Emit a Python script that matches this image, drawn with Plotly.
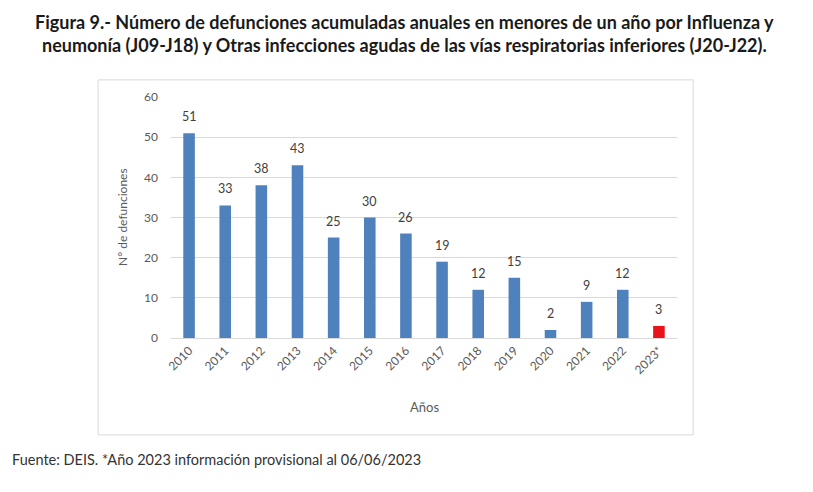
import plotly.graph_objects as go

# data
years = ["2010", "2011", "2012", "2013", "2014", "2015", "2016",
         "2017", "2018", "2019", "2020", "2021", "2022", "2023*"]
deaths = [51, 33, 38, 43, 25, 30, 26, 19, 12, 15, 2, 9, 12, 3]
bar_colors = ["#4f81bd"] * 13 + ["#e8141c"]

title_1 = "Figura 9.- Número de defunciones acumuladas anuales en menores de un año por Influenza y"
title_2 = "neumonía (J09-J18) y Otras infecciones agudas de las vías respiratorias inferiores (J20-J22)."
footer = "Fuente: DEIS. *Año 2023 información provisional al 06/06/2023"

FONT = "Lato"

fig = go.Figure()
fig.add_trace(go.Bar(
    x=years, y=deaths,
    marker=dict(color=bar_colors, line=dict(width=0)),
    width=0.32,
))

# value labels above the bars (category index keeps "2010" from being read as a number)
value_labels = [
    dict(x=i, y=v, xref="x", yref="y", text=str(v), showarrow=False,
         xanchor="center", yanchor="bottom", yshift=7,
         font=dict(size=12.5, color="#404040"))
    for i, v in enumerate(deaths)
]

# page has an 8px body margin, so the figure is a bit smaller than the window
fig.update_layout(
    width=805, height=484,
    margin=dict(l=163, r=136, t=89, b=154),
    paper_bgcolor="white", plot_bgcolor="white",
    showlegend=False,
    font=dict(family=FONT, color="#595959"),
    xaxis=dict(
        type="category", range=[-0.5, len(years) - 0.5],
        tickangle=-45, tickfont=dict(size=12, color="#595959"),
        showline=True, linecolor="#d9d9d9", linewidth=1,
        ticks="", showgrid=False,
    ),
    yaxis=dict(
        range=[0, 60], dtick=10,
        tickfont=dict(size=12, color="#595959"),
        showgrid=True, gridcolor="#d9d9d9", gridwidth=1,
        zeroline=False, ticks="", ticklabelstandoff=12,
    ),
    shapes=[dict(
        type="rect", xref="paper", yref="paper",
        x0=-0.144, x1=1.032, y0=-0.402, y1=1.071,
        line=dict(color="#d9d9d9", width=1), fillcolor="rgba(0,0,0,0)",
        layer="below",
    )],
    annotations=value_labels + [
        dict(text="<b>" + title_1 + "</b>", xref="paper", yref="paper",
             x=0.4605, y=1.311, showarrow=False, xanchor="center", yanchor="middle",
             font=dict(size=18, color="#1a1a1a")),
        dict(text="<b>" + title_2 + "</b>", xref="paper", yref="paper",
             x=0.4605, y=1.216, showarrow=False, xanchor="center", yanchor="middle",
             font=dict(size=18, color="#1a1a1a")),
        dict(text="N° de defunciones", xref="paper", yref="paper",
             x=-0.097, y=0.502, textangle=-90, showarrow=False,
             xanchor="center", yanchor="middle",
             font=dict(size=12, color="#595959")),
        dict(text="Años", xref="paper", yref="paper",
             x=0.5, y=-0.286, showarrow=False, xanchor="center", yanchor="middle",
             font=dict(size=13, color="#595959")),
        dict(text=footer, xref="paper", yref="paper",
             x=-0.318, y=-0.506, showarrow=False, xanchor="left", yanchor="middle",
             font=dict(size=14.5, color="#333333")),
    ],
)

fig.write_html("out.html")
